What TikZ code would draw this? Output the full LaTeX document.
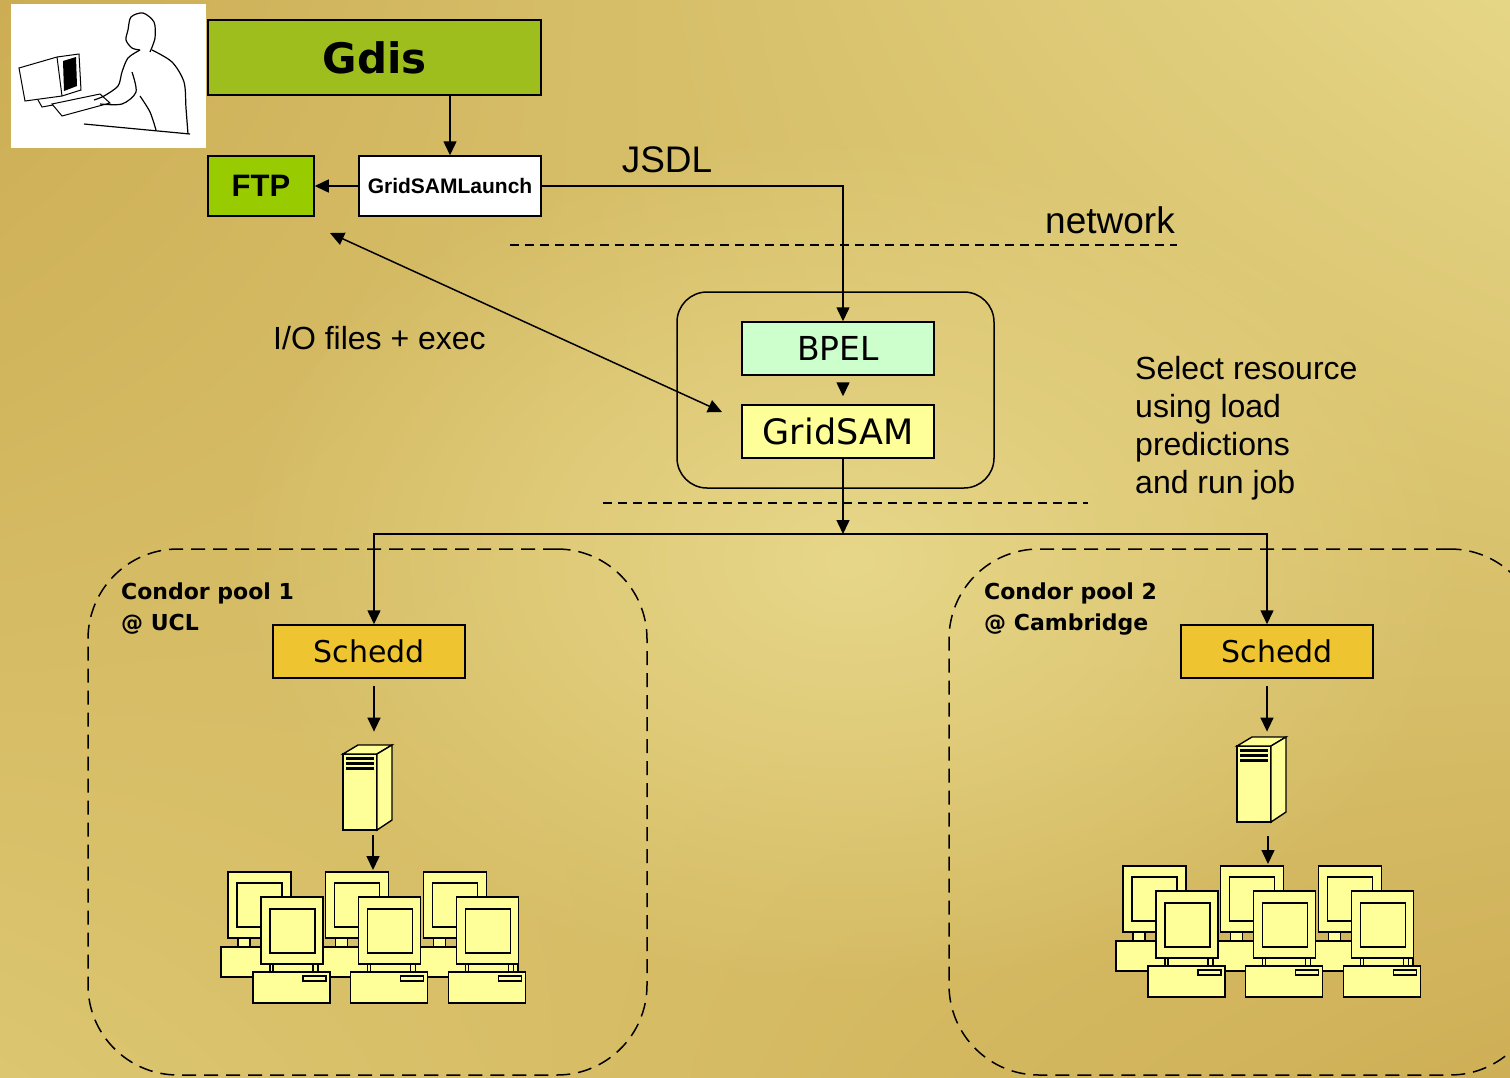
\documentclass[tikz,border=0pt]{standalone}
\usepackage{fontspec}
\setmainfont{Liberation Sans}
\newfontfamily\comicfont{DejaVu Sans}
\usetikzlibrary{arrows.meta,fadings,shadings}

% backdrop and box colours
\definecolor{bgTL}{RGB}{204,173,84}
\definecolor{bgTR}{RGB}{229,214,134}
\definecolor{bgBL}{RGB}{220,198,112}
\definecolor{bgBR}{RGB}{206,175,86}
\definecolor{bgGlow}{RGB}{231,215,137}
\definecolor{gdisgreen}{RGB}{158,190,30}
\definecolor{ftpgreen}{RGB}{153,204,0}
\definecolor{bpelgreen}{RGB}{204,255,204}
\definecolor{samyellow}{RGB}{255,255,153}
\definecolor{scheddgold}{RGB}{238,196,48}
\definecolor{pcyellow}{RGB}{255,255,153}

\tikzfading[name=glow, inner color=transparent!0, outer color=transparent!100]

\tikzset{
  >={Triangle[length=14pt,width=13pt]},
  box/.style={draw, line width=1.5pt, inner sep=0pt, minimum width=192pt, minimum height=53pt},
  flow/.style={line width=1.5pt, ->},
  sepline/.style={line width=1.3pt, dash pattern=on 9pt off 6pt},
  pool/.style={draw, line width=1.5pt, dash pattern=on 14pt off 8pt, rounded corners=90pt},
  pc/.style={draw, line width=1.4pt, fill=pcyellow},
  % tower server, origin at bottom left of the front face
  tower/.pic={
    \node[inner sep=0pt, minimum width=49pt, minimum height=85pt, anchor=south west] (-box) at (0,0) {};
    \draw[pc] (0,0) rectangle (34,-76);
    \draw[pc] (0,-76) -- (15,-85) -- (49,-85) -- (34,-76) -- cycle;
    \draw[pc] (34,-76) -- (49,-85) -- (49,-10) -- (34,0) -- cycle;
    \foreach \s in {73,68,63} \fill (3,-\s) rectangle (31,-\s+3);
  },
  % six desktops, origin at top left of the first back monitor
  desks/.pic={
    \foreach \dx in {0,97.7,195.4} {
      \draw[pc] (\dx,0) rectangle (\dx+63,66);
      \draw[pc] (\dx+9,11) rectangle (\dx+54,55);
      \draw[pc] (\dx+10,66) rectangle (\dx+22,75);
    }
    \draw[pc] (-7,75) rectangle (290,105);
    \foreach \dx in {0,97.7,195.4} {
      \draw[pc] (\dx+33,25) rectangle (\dx+95,92);
      \draw[pc] (\dx+42,37) rectangle (\dx+87,81);
      \draw[pc] (\dx+42,92) rectangle (\dx+45,100);
      \draw[pc] (\dx+85,92) rectangle (\dx+90,100);
      \draw[pc] (\dx+25,100) rectangle (\dx+102,131);
      \draw[pc] (\dx+75,104) rectangle (\dx+98,109);
    }
    \coordinate (-in) at (145,-2);
  }
}

\begin{document}
\begin{tikzpicture}[x=1pt,y=-1pt]

\useasboundingbox (0,0) rectangle (1510,1077);

% gold backdrop
\shade[upper left=bgTL, upper right=bgTR, lower left=bgBL, lower right=bgBR] (0,0) rectangle (1510,1077);
\fill[bgGlow, path fading=glow] (850,560) ellipse [x radius=620pt, y radius=430pt];

% user at the workstation
\node[fill=white, inner sep=0pt, minimum width=195pt, minimum height=144pt] (user) at (108.5,76) {};
\draw[line width=1pt, fill=white] (19,68) -- (57,57) -- (79,54) -- (81,90) -- (62,96) -- (25,101) -- cycle;
\draw[line width=1pt] (57,57) -- (62,96);
\fill (63,61) -- (76,57) -- (77,86) -- (64,91) -- cycle;
\draw[line width=1pt] (38,100) -- (42,107) -- (64,103);
\draw[line width=1pt, fill=white] (52,104) -- (100,94) -- (110,103) -- (62,116) -- cycle;
\draw[line width=1.2pt] plot[smooth] coordinates {(150,52) (155,38) (154,22) (143,13) (131,17) (128,30) (126,40) (132,48) (140,50)};
\draw[line width=1.2pt] plot[smooth] coordinates {(140,50) (128,58) (122,72) (118,86) (104,96) (94,100)};
\draw[line width=1.2pt] plot[smooth] coordinates {(152,50) (172,62) (184,82) (186,108) (188,134)};
\draw[line width=1.2pt] plot[smooth] coordinates {(132,72) (136,92) (122,104) (100,104)};
\draw[line width=1.2pt] plot[smooth] coordinates {(140,96) (150,112) (156,130)};
\draw[line width=1.2pt] (84,124) -- (190,134);

% client side
\node[box, fill=gdisgreen, minimum width=333pt, minimum height=75pt,
      font=\comicfont\bfseries\fontsize{42}{50}\selectfont] (gdis) at (374.5,57.5) {Gdis};
\node[box, fill=ftpgreen, minimum width=106pt, minimum height=60pt,
      font=\bfseries\fontsize{31}{36}\selectfont] (ftp) at (261,186) {FTP};
\node[box, fill=white, minimum width=182pt, minimum height=60pt,
      font=\bfseries\fontsize{21}{25}\selectfont] (launch) at (450,186) {GridSAMLaunch};

\draw[flow] (gdis.south -| launch.north) -- (launch.north);
\draw[flow] (launch.west) -- (ftp.east);

% labels
\node[font=\fontsize{37}{44}\selectfont] (jsdl) at (667,160) {JSDL};
\node[font=\fontsize{37}{44}\selectfont] (network) at (1110,220) {network};
\node[font=\fontsize{32}{38}\selectfont] (io) at (379.5,338) {I/O files + exec};
\node[font=\fontsize{32}{38}\selectfont, align=left, anchor=north west, inner sep=0pt] (select)
      at (1135,356) {Select resource\\using load\\predictions\\and run job};

% network boundaries
\coordinate (netL) at (510,245);
\coordinate (netR) at (1177,245);
\draw[sepline] (netL) -- (netR);
\coordinate (poolL) at (603,503);
\coordinate (poolR) at (1088,503);
\draw[sepline] (poolL) -- (poolR);

% service container
\node[draw, line width=1.5pt, rounded corners=30pt, minimum width=317pt, minimum height=196pt] (svc) at (835.5,390) {};
\node[box, fill=bpelgreen, font=\comicfont\fontsize{33}{40}\selectfont] (bpel) at (838,348.5) {BPEL};
\node[box, fill=samyellow, font=\comicfont\fontsize{35}{42}\selectfont] (gridsam) at (838,431.5) {GridSAM};

\draw[flow] (launch.east) -| ([xshift=5pt]bpel.north);
\draw[flow, shorten <=8pt, shorten >=8pt] ([xshift=5pt]bpel.south) -- ([xshift=5pt]gridsam.north);

\coordinate (ioA) at (330,233);
\coordinate (ioB) at (722,412);
\draw[flow, <->] (ioA) -- (ioB);

% condor pools
\node[pool, minimum width=559pt, minimum height=526pt] (pool1) at (367.5,812) {};
\node[pool, minimum width=591pt, minimum height=526pt] (pool2) at (1244.5,812) {};
\node[anchor=north west, align=left, inner sep=0pt, font=\comicfont\bfseries\fontsize{22}{31}\selectfont]
      (pool1lbl) at (121,583) {Condor pool 1\\@ UCL};
\node[anchor=north west, align=left, inner sep=0pt, font=\comicfont\bfseries\fontsize{22}{31}\selectfont]
      (pool2lbl) at (984,583) {Condor pool 2\\@ Cambridge};

\node[box, fill=scheddgold, font=\comicfont\fontsize{30}{36}\selectfont] (sched1) at (369,651.5) {Schedd};
\node[box, fill=scheddgold, font=\comicfont\fontsize{30}{36}\selectfont] (sched2) at (1277,651.5) {Schedd};

\coordinate (split) at (843,534);
\draw[flow] ([xshift=5pt]gridsam.south) -- (split);
\draw[flow] (split) -| ([xshift=5pt]sched1.north);
\draw[flow] (split) -| ([xshift=-10pt]sched2.north);

% machines
\pic (srv1) at (343,830) {tower};
\pic (srv2) at (1237,822) {tower};
\pic (ws1) at (228,872) {desks};
\pic (ws2) at (1123,866) {desks};

\draw[flow, shorten <=7pt, shorten >=13pt] ([xshift=5pt]sched1.south) -- ([xshift=5pt]sched1.south |- srv1-box.north);
\draw[flow, shorten <=7pt, shorten >=5pt] ([xshift=-10pt]sched2.south) -- ([xshift=-10pt]sched2.south |- srv2-box.north);
\draw[flow, shorten <=5pt] (srv1-box.south -| ws1-in) -- (ws1-in);
\draw[flow, shorten <=14pt] (srv2-box.south -| ws2-in) -- (ws2-in);

\end{tikzpicture}
\end{document}
